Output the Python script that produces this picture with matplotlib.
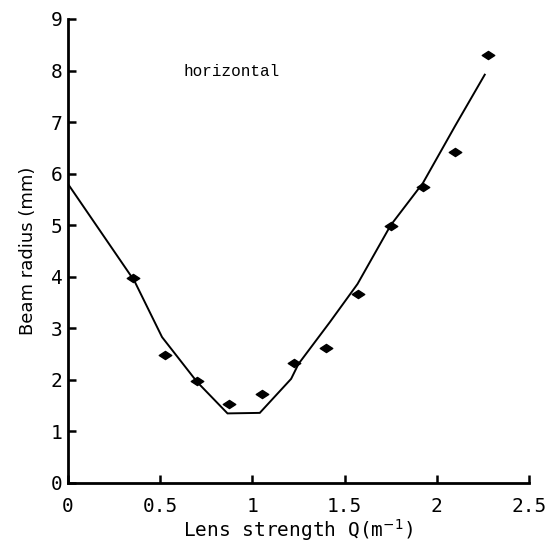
import matplotlib
matplotlib.use("Agg")
import matplotlib.pyplot as plt
from matplotlib.path import Path

# measured data points
q_meas = [0.35, 0.525, 0.70, 0.875, 1.05, 1.225, 1.40, 1.575, 1.75, 1.925, 2.10, 2.275]
r_meas = [3.97, 2.48, 1.97, 1.53, 1.72, 2.32, 2.61, 3.66, 4.99, 5.74, 6.42, 8.30]

# calculated curve
q_calc = [0.0, 0.36, 0.51, 0.70, 0.865, 1.04, 1.21, 1.25, 1.42, 1.57, 1.75, 1.925, 2.10, 2.26]
r_calc = [5.80, 3.92, 2.83, 1.96, 1.35, 1.36, 2.02, 2.31, 3.12, 3.86, 5.00, 5.82, 6.93, 7.92]

xticks = [0, 0.5, 1, 1.5, 2, 2.5]
xticklabels = ["0", "0.5", "1", "1.5", "2", "2.5"]
yticks = list(range(10))
yticklabels = [str(v) for v in yticks]

mono = "DejaVu Sans Mono"

fig = plt.figure(figsize=(5.52, 5.45), dpi=100)
ax = fig.add_axes([68/552, 1 - 483/545, (529-68)/552, (483-19)/545])

ax.plot(q_calc, r_calc, color="black", lw=1.4, solid_joinstyle="miter")
lens = Path([(-1, 0), (0, 0.65), (1, 0), (0, -0.65), (-1, 0)],
            [Path.MOVETO, Path.LINETO, Path.LINETO, Path.LINETO, Path.CLOSEPOLY])
ax.plot(q_meas, r_meas, linestyle="none", marker=lens, markersize=9, color="black")

ax.text(0.89, 7.99, "horizontal", fontsize=11.5, family="Liberation Mono",
        ha="center", va="center")

ax.set_xlim(0, 2.5)
ax.set_ylim(0, 9)
ax.set_xticks(xticks)
ax.set_xticklabels(xticklabels, family=mono, fontsize=14)
ax.set_yticks(yticks)
ax.set_yticklabels(yticklabels, family=mono, fontsize=14)
ax.tick_params(direction="in", length=6, width=1.8)
ax.tick_params(axis="x", pad=10)
ax.tick_params(axis="y", pad=4)
for s in ["top", "right"]:
    ax.spines[s].set_visible(False)
for s in ["left", "bottom"]:
    ax.spines[s].set_linewidth(2)

ax.set_xlabel("Lens strength Q(m$^{-1}$)", family=mono, fontsize=14, labelpad=1)
ax.set_ylabel("Beam radius (mm)", family="DejaVu Sans", fontsize=13, labelpad=10)

fig.savefig("out.png", dpi=100)
